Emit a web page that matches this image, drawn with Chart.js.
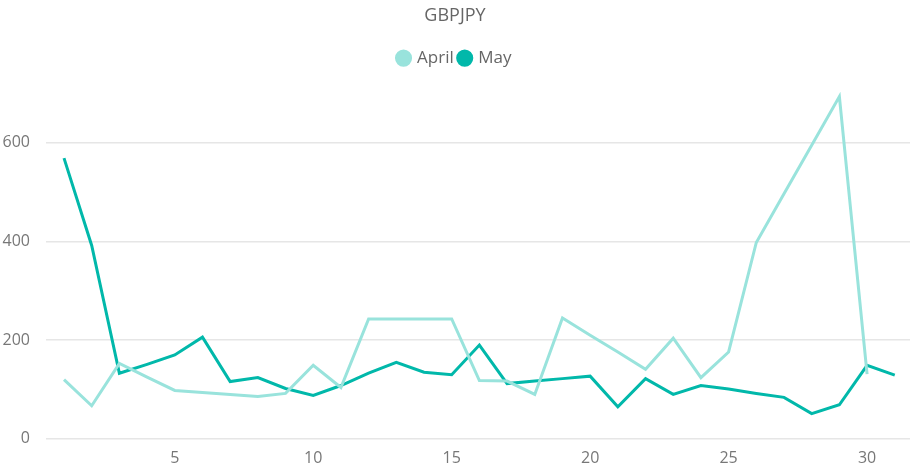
<!DOCTYPE html>
<html>
<head>
<meta charset="utf-8">
<script src="https://cdn.jsdelivr.net/npm/chart.js@4"></script>
<style>
  html, body { margin: 0; padding: 0; background: #fff; }
  #wrap { width: 916px; height: 470px; }
</style>
</head>
<body>
<div id="wrap"><canvas id="myChart"></canvas></div>
<script>
days = [];
for (let d = 1; d <= 31; d++) days.push(d);

april = [120, 67, 153, 125, 98, 94, 90, 86, 92, 149, 104, 243, 243, 243, 243, 118, 117, 90, 245, 210, 176, 141, 204, 124, 176, 398, 497, 595, 694, 131];
may = [569, 392, 133, 151, 170, 206, 116, 124, 102, 88, 108, 133, 155, 135, 130, 190, 112, 117, 122, 127, 65, 122, 90, 108, 101, 92, 84, 51, 69, 149, 129];

yTicks = [0, 200, 400, 600];
xTicks = [5, 10, 15, 20, 25, 30];

function toPoints(vals) {
  return vals.map((v, i) => ({ x: days[i], y: v }));
}

const font = "'Open Sans', 'Segoe UI', sans-serif";

// extra room under the legend
const legendGap = {
  id: 'legendGap',
  beforeInit(chart) {
    const fit = chart.legend.fit;
    chart.legend.fit = function () {
      fit.bind(chart.legend)();
      this.height += 12;
    };
  }
};

new Chart(document.getElementById('myChart'), {
  type: 'line',
  data: {
    datasets: [{
      label: "April",
      data: toPoints(april),
      borderColor: "#99e3dc",
      backgroundColor: "#99e3dc",
      borderWidth: 3,
      pointRadius: 0,
      tension: 0
    }, {
      label: "May",
      data: toPoints(may),
      borderColor: "#01b8aa",
      backgroundColor: "#01b8aa",
      borderWidth: 3,
      pointRadius: 0,
      tension: 0
    }]
  },
  options: {
    responsive: true,
    maintainAspectRatio: false,
    animation: false,
    layout: { padding: { left: 0, right: 6, top: 0, bottom: 0 } },
    plugins: {
      title: {
        display: true,
        text: "GBPJPY",
        color: "#666",
        font: { family: font, size: 18, weight: 'normal' },
        padding: { top: 5, bottom: 17 }
      },
      legend: {
        position: 'top',
        labels: {
          usePointStyle: true,
          pointStyle: 'circle',
          boxWidth: 10,
          boxHeight: 10,
          padding: 6,
          color: "#666",
          font: { family: font, size: 17 }
        }
      },
      tooltip: { enabled: false }
    },
    scales: {
      x: {
        type: 'linear',
        min: 0.35,
        max: 31.55,
        afterBuildTicks: axis => { axis.ticks = xTicks.map(v => ({ value: v })); },
        grid: { display: false },
        border: { display: false },
        ticks: { color: "#777", font: { family: font, size: 16 }, padding: 2 }
      },
      y: {
        min: 0,
        max: 710,
        afterBuildTicks: axis => { axis.ticks = yTicks.map(v => ({ value: v })); },
        afterFit: axis => { axis.width = 46; },
        grid: { color: "#e6e6e6", lineWidth: 1.5, drawTicks: false },
        border: { display: false },
        ticks: { color: "#777", font: { family: font, size: 16 }, padding: 16 }
      }
    }
  },
  plugins: [legendGap]
});
</script>
</body>
</html>
